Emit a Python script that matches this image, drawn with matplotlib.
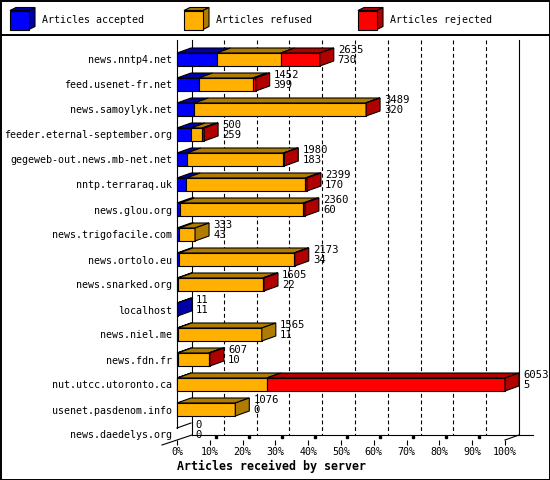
import numpy as np
import matplotlib
matplotlib.use('Agg')
import matplotlib.pyplot as plt
from matplotlib.patches import Polygon, Rectangle

# data: one row per server, top to bottom
servers = ['news.nntp4.net', 'feed.usenet-fr.net', 'news.samoylyk.net',
           'feeder.eternal-september.org', 'gegeweb-out.news.mb-net.net',
           'nntp.terraraq.uk', 'news.glou.org', 'news.trigofacile.com',
           'news.ortolo.eu', 'news.snarked.org', 'localhost', 'news.niel.me',
           'news.fdn.fr', 'nut.utcc.utoronto.ca', 'usenet.pasdenom.info',
           'news.daedelys.org']
totals   = [2635, 1452, 3489, 500, 1980, 2399, 2360, 333, 2173, 1605, 11, 1565, 607, 6053, 1076, 0]
accepted = [730, 399, 320, 259, 183, 170, 60, 43, 34, 22, 11, 11, 10, 5, 0, 0]
refused  = [1184, 1000, 3161, 208, 1782, 2199, 2271, 290, 2125, 1560, 0, 1554, 575, 1650, 1076, 0]
rejected = [721, 53, 8, 33, 15, 30, 29, 0, 14, 23, 0, 0, 22, 4398, 0, 0]
series_names = ['Articles accepted', 'Articles refused', 'Articles rejected']

front = ['#0000ff', '#ffb000', '#ff0000']
dark  = ['#0000a8', '#b07c00', '#b00000']

W, H = 550, 480
fig = plt.figure(figsize=(W / 100, H / 100), dpi=100)

# overlay in pixel coords for border + legend
bg = fig.add_axes([0, 0, 1, 1])
bg.set_xlim(0, W)
bg.set_ylim(H, 0)
bg.axis('off')
bg.add_patch(Rectangle((0.5, 0.5), W - 1, H - 1, fill=False, ec='black', lw=1.4))
bg.plot([0, W], [35, 35], color='black', lw=1.4)
for k, (name, xl) in enumerate(zip(series_names, [10, 184, 358])):
    x0, y0, s, d = xl, 10.5, 19, 6
    bg.add_patch(Polygon([(x0, y0), (x0 + d, y0 - 3), (x0 + s + d, y0 - 3), (x0 + s, y0)],
                         fc=dark[k], ec='black', lw=0.8))
    bg.add_patch(Polygon([(x0 + s, y0), (x0 + s + d, y0 - 3), (x0 + s + d, y0 + s - 3), (x0 + s, y0 + s)],
                         fc=dark[k], ec='black', lw=0.8))
    bg.add_patch(Rectangle((x0, y0), s, s, fc=front[k], ec='black', lw=0.8))
    bg.text(x0 + 32, 20, name, fontsize=7.2, family='DejaVu Sans Mono', va='center', ha='left')

# main axes: front plane, 0..100 % of the largest total
px_pct = 328 / 100.0
row_px = 25.0
ax = fig.add_axes([177 / W, (H - 440) / H, 328 / W, 400 / H])
ax.set_facecolor('none')
ytop = (40 - 59.5) / row_px
yfloor = (440 - 59.5) / row_px
ax.set_xlim(0, 100)
ax.set_ylim(yfloor, ytop)
for sp in ax.spines.values():
    sp.set_visible(False)

dx = 14 / px_pct      # depth in %
dy = 5 / row_px       # depth in rows
wall = 15 / px_pct
h = 13 / row_px
n = len(servers)
maxT = max(totals)

# walls, floor and grid
lk = dict(color='black', lw=0.8, clip_on=False)
ax.plot([wall, wall], [ytop, yfloor - dy], **lk)
ax.plot([100 + dx, 100 + dx], [ytop, yfloor - dy], **lk)
ax.plot([wall, 100 + 2 * dx], [yfloor - dy, yfloor - dy], **lk)
ax.plot([-wall, wall], [yfloor + dy, yfloor - dy], **lk)
ax.plot([100, 100 + dx], [yfloor, yfloor - dy], **lk)
ax.plot([0, 0], [ytop, n - 1 - h / 2], **lk)
for p in range(10, 100, 10):
    ax.plot([p + dx, p + dx], [ytop, yfloor - dy], color='black', lw=0.8,
            linestyle=(0, (3.5, 2.5)), zorder=0.5)
    ax.plot([p + 0.45 * dx], [yfloor - 0.55 * dy], marker='s', ms=2, color='black', clip_on=False)

# bars
for i in range(n):
    vals = [accepted[i], refused[i], rejected[i]]
    top = i - h / 2
    bot = i + h / 2
    x0 = 0.0
    last = None
    for k, v in enumerate(vals):
        if v <= 0:
            continue
        w = v / maxT * 100
        x1 = x0 + w
        ax.add_patch(Polygon([(x0, top), (x0 + dx, top - dy), (x1 + dx, top - dy), (x1, top)],
                             fc=dark[k], ec='black', lw=0.8, clip_on=False, zorder=2))
        ax.add_patch(Rectangle((x0, top), w, h, fc=front[k], ec='black', lw=0.8,
                               clip_on=False, zorder=3))
        x0 = x1
        last = k
    if last is not None:
        ax.add_patch(Polygon([(x0, top), (x0 + dx, top - dy), (x0 + dx, bot - dy), (x0, bot)],
                             fc=dark[last], ec='black', lw=0.8, clip_on=False, zorder=3))
    else:
        ax.plot([0, dx], [top, top - dy], color='black', lw=0.8, clip_on=False)
    ax.text(x0 + dx + 4 / px_pct, i - dy / 2 - 0.08, f"{totals[i]}\n{accepted[i]}",
            fontsize=7.6, family='DejaVu Sans Mono', va='center', ha='left',
            linespacing=1.05, clip_on=False)

ax.set_yticks(range(n))
ax.set_yticklabels(servers, fontsize=7.2, family='DejaVu Sans Mono')
ax.tick_params(axis='y', length=0, pad=3.6)
ax.set_xticks(range(0, 101, 10))
ax.set_xticklabels([f"{p}%" for p in range(0, 101, 10)], fontsize=7.2, family='DejaVu Sans Mono')
ax.tick_params(axis='x', length=3.5, width=0.8, pad=1.5)
ax.set_xlabel('Articles received by server', fontsize=8.4, family='DejaVu Sans Mono',
              fontweight='bold', loc='left', labelpad=2)

fig.savefig('out.png', dpi=100)
